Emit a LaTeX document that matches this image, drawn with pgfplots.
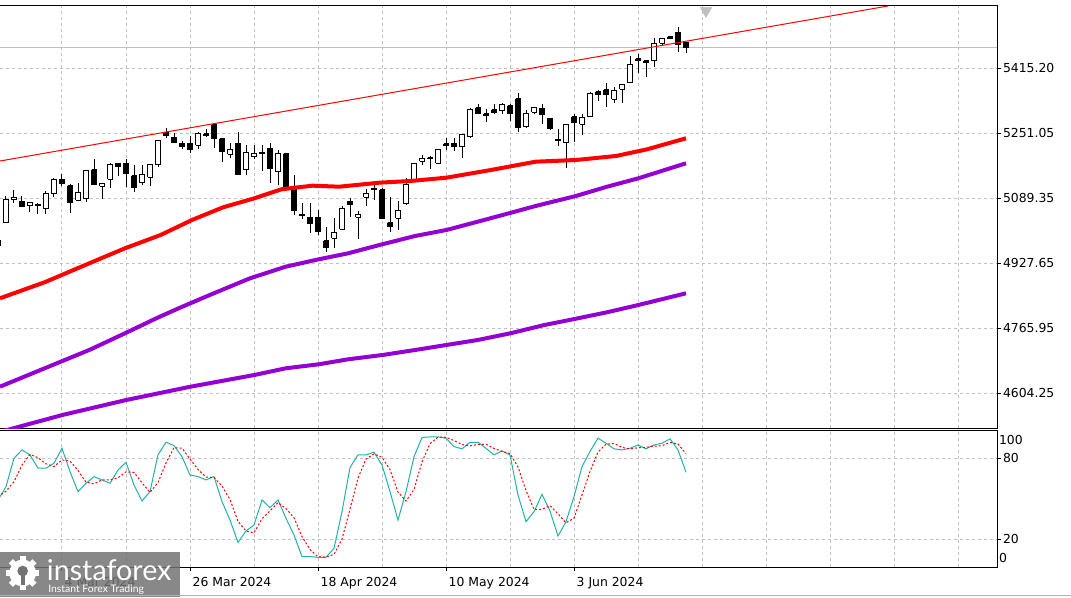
\documentclass[border=0pt]{standalone}
\usepackage{pgfplots}
\pgfplotsset{compat=1.18}
\usepackage{fontspec}
\setmainfont{DejaVu Sans}
\newfontfamily\wmfont{Lato}
\definecolor{maRed}{HTML}{FF0000}
\definecolor{maViolet}{HTML}{9400D3}
\definecolor{stochK}{HTML}{20B2AA}
\definecolor{gridc}{HTML}{C0C0C0}

% candle: index, open, high, low, close, body fill
\newcommand{\candle}[6]{%
  \pgfmathsetmacro\xl{#1-0.3125}\pgfmathsetmacro\xr{#1+0.3125}%
  \addplot[black, line width=0.75pt] coordinates {(#1,#4) (#1,#3)};
  \addplot[draw=black, fill=#6, line width=0.75pt] coordinates {(\xl,#2) (\xr,#2) (\xr,#5) (\xl,#5) (\xl,#2)};
}
\newcommand{\bull}[5]{\candle{#1}{#2}{#3}{#4}{#5}{white}}
\newcommand{\bear}[5]{\candle{#1}{#2}{#3}{#4}{#5}{black}}

\pgfplotstableread{
i K D
-24 49.0 51.5
-23 58.9 55.5
-22 80.0 62.6
-21 86.2 75.0
-20 82.5 82.9
-19 72.6 80.4
-18 72.6 75.9
-17 76.3 73.8
-16 87.4 78.8
-15 70.1 77.9
-14 55.2 70.9
-13 61.4 62.2
-12 66.4 61.0
-11 63.9 63.9
-10 61.4 63.9
-9 71.3 65.5
-8 77.0 69.9
-7 60.2 69.5
-6 48.3 61.8
-5 55.2 54.6
-4 82.5 62.0
-3 91.9 76.5
-2 89.4 87.9
-1 81.2 87.5
0 67.6 79.4
1 66.4 71.7
2 63.9 66.0
3 66.4 65.6
4 47.8 59.4
5 34.1 49.4
6 17.5 33.1
7 26.0 25.9
8 30.4 24.6
9 49.0 35.1
10 43.3 40.9
11 49.0 47.1
12 35.4 42.6
13 23.0 35.8
14 6.9 21.8
15 6.9 12.3
16 6.4 6.7
17 6.4 6.6
18 13.1 8.6
19 40.3 19.9
20 73.1 42.2
21 82.5 65.3
22 82.5 79.4
23 84.5 83.2
24 75.0 80.7
25 55.2 71.6
26 34.1 54.8
27 55.2 48.2
28 81.2 56.8
29 95.4 77.3
30 95.9 90.8
31 95.9 95.7
32 94.9 95.6
33 88.7 93.2
34 87.0 90.2
35 91.9 89.2
36 91.9 90.3
37 87.4 90.4
38 82.5 87.3
39 85.5 85.1
40 82.5 83.5
41 52.7 73.6
42 32.9 56.0
43 40.3 42.0
44 53.2 42.1
45 40.8 44.8
46 22.2 38.7
47 32.9 32.0
48 51.5 35.5
49 73.8 52.7
50 85.0 70.1
51 94.9 84.6
52 91.2 90.4
53 87.0 91.0
54 86.2 88.1
55 87.4 86.9
56 89.9 87.8
57 87.0 88.1
58 89.9 88.9
59 91.2 89.4
60 94.4 91.8
61 86.2 90.6
62 69.6 83.4
}\stochdata

\pgfplotstableread{
i v
-23.75 4840.6
-18.175 4880.4
-12.59 4927.6
-8.125 4965.0
-3.66 4998.1
0.25 5035.4
4.15 5067.0
8.06 5089.4
11.41 5111.7
15.31 5120.7
18.66 5118.2
23.69 5128.2
27.59 5132.4
32.05 5140.6
37.64 5159.8
43.21 5180.4
48.24 5184.6
53.26 5194.6
57.16 5211.3
62 5238.6
}\maA

\pgfplotstableread{
i v
-23.75 4620.7
-18.175 4666.4
-12.59 4712.0
-8.125 4753.5
-4.21 4790.8
-1.425 4815.7
2.475 4848.8
7.5 4890.3
11.96 4919.2
16.1 4937.6
19.775 4952.5
23.69 4973.2
28.15 4995.6
32.05 5010.5
35.96 5031.1
39.86 5052.0
43.21 5070.2
48.24 5095.1
52.14 5118.2
56.05 5139.1
62 5176.4
}\maB

\pgfplotstableread{
i v
-23.75 4508.2
-22.075 4517.2
-15.94 4550.3
-7.96 4587.6
0.075 4620.7
8.06 4649.8
11.96 4666.4
16.1 4676.4
19.775 4688.8
24.075 4699.5
28.15 4712.0
32.05 4724.4
35.96 4736.8
40.04 4753.5
44.325 4774.2
48.075 4789.1
52.14 4805.8
56.05 4823.9
62 4853.0
}\maC

\begin{document}
\begin{tikzpicture}
\useasboundingbox (0,0) rectangle (803.25pt,447.75pt);
\begin{axis}[
  at={(0pt,126.75pt)}, anchor=south west, scale only axis,
  width=747.75pt, height=316.5pt,
  xmin=-23.75, xmax=100.875, ymin=4517.9, ymax=5567.7,
  axis line style={black, line width=0.75pt},
  xtick={-16,-8,...,96}, xticklabels=\empty, xmajorgrids,
  x tick style={draw=none},
  ytick={4604.25,4765.95,4927.65,5089.35,5251.05,5412.75},
  yticklabels={4604.25,4765.95,4927.65,5089.35,5251.05,5415.20},
  scaled y ticks=false,
  ymajorgrids,
  grid style={gridc, dash pattern=on 2.25pt off 2.25pt, line width=0.75pt},
  ytick pos=right, yticklabel pos=right, tick align=outside,
  major tick length=3pt,
  y tick style={black, line width=0.75pt},
  yticklabel style={font=\fontsize{9.3}{10}\selectfont, anchor=west, xshift=-2pt},
  clip=true,
]
\addplot[gridc, line width=0.75pt] coordinates {(-23.75,5464.41) (100.875,5464.41)};
\bear{-24}{4983.1}{4990.6}{4965.7}{4970.7}
\bull{-23}{5029.6}{5095.1}{5029.6}{5085.1}
\bull{-22}{5086.9}{5110.0}{5078.4}{5091.8}
\bear{-21}{5080.9}{5095.1}{5066.5}{5068.5}
\bull{-20}{5070.9}{5079.4}{5056.0}{5079.4}
\bear{-19}{5073.4}{5078.4}{5050.3}{5070.2}
\bull{-18}{5064.5}{5107.5}{5049.5}{5101.8}
\bull{-17}{5101.8}{5139.1}{5091.8}{5136.6}
\bear{-16}{5134.9}{5149.8}{5120.7}{5126.7}
\bear{-15}{5120.7}{5124.9}{5053.5}{5078.4}
\bull{-14}{5084.4}{5126.7}{5084.4}{5104.3}
\bull{-13}{5088.4}{5157.3}{5080.9}{5157.3}
\bear{-12}{5159.8}{5186.4}{5123.2}{5123.2}
\bull{-11}{5119.2}{5124.9}{5088.4}{5124.9}
\bull{-10}{5136.6}{5177.9}{5115.7}{5173.9}
\bear{-9}{5176.4}{5176.4}{5144.8}{5168.0}
\bear{-8}{5176.4}{5187.1}{5118.2}{5151.5}
\bear{-7}{5144.8}{5172.2}{5104.3}{5115.7}
\bull{-6}{5128.2}{5172.2}{5122.4}{5149.1}
\bull{-5}{5141.6}{5173.9}{5120.7}{5173.9}
\bull{-4}{5172.2}{5231.9}{5168.0}{5231.9}
\bear{-3}{5253.5}{5263.5}{5240.1}{5245.1}
\bear{-2}{5241.1}{5251.05}{5226.2}{5228.7}
\bear{-1}{5226.2}{5231.9}{5211.3}{5217.7}
\bear{0}{5226.2}{5245.1}{5202.8}{5211.3}
\bull{1}{5221.9}{5253.5}{5212.7}{5249.3}
\bear{2}{5249.3}{5261.8}{5242.6}{5245.1}
\bear{3}{5271.7}{5273.4}{5213.7}{5238.6}
\bear{4}{5236.9}{5236.9}{5180.4}{5205.3}
\bull{5}{5198.8}{5226.2}{5190.3}{5211.3}
\bear{6}{5226.2}{5255.0}{5147.3}{5147.3}
\bull{7}{5159.8}{5221.9}{5147.3}{5202.8}
\bull{8}{5192.8}{5221.9}{5186.4}{5201.3}
\bear{9}{5203.8}{5221.9}{5158.0}{5201.3}
\bear{10}{5213.7}{5226.2}{5126.7}{5164.0}
\bull{11}{5155.5}{5209.5}{5122.4}{5201.3}
\bear{12}{5199.6}{5202.8}{5118.2}{5118.2}
\bear{13}{5118.2}{5147.3}{5047.8}{5060.2}
\bear{14}{5049.5}{5078.4}{5037.1}{5046.1}
\bear{15}{5042.1}{5078.4}{5003.8}{5027.2}
\bear{16}{5042.1}{5060.2}{4998.1}{5006.3}
\bear{17}{4983.1}{5017.2}{4955.0}{4966.5}
\bull{18}{4989.8}{5039.6}{4966.5}{5004.8}
\bull{19}{5012.2}{5070.2}{5010.5}{5064.5}
\bear{20}{5082.6}{5089.4}{5043.6}{5072.7}
\bull{21}{5042.1}{5057.8}{4987.4}{5049.5}
\bull{22}{5091.8}{5111.7}{5070.9}{5100.1}
\bull{23}{5110.0}{5122.4}{5085.1}{5114.2}
\bear{24}{5110.0}{5114.2}{5039.6}{5039.6}
\bear{25}{5028.6}{5093.3}{5006.3}{5018.7}
\bull{26}{5039.6}{5082.6}{5010.5}{5057.8}
\bull{27}{5075.2}{5139.1}{5072.7}{5124.2}
\bull{28}{5134.9}{5176.4}{5132.4}{5176.4}
\bull{29}{5182.1}{5197.1}{5172.2}{5188.9}
\bear{30}{5190.3}{5194.6}{5162.2}{5187.1}
\bull{31}{5176.4}{5211.3}{5173.9}{5211.3}
\bear{32}{5224.4}{5240.1}{5209.5}{5220.2}
\bear{33}{5226.2}{5240.1}{5207.8}{5217.7}
\bull{34}{5217.7}{5248.6}{5190.3}{5248.6}
\bull{35}{5242.6}{5313.2}{5240.1}{5309.0}
\bear{36}{5314.7}{5323.2}{5298.3}{5300.8}
\bear{37}{5299.1}{5311.5}{5279.9}{5294.8}
\bear{38}{5309.0}{5323.2}{5298.3}{5303.3}
\bull{39}{5307.3}{5325.7}{5298.3}{5321.5}
\bear{40}{5319.0}{5323.2}{5281.7}{5300.8}
\bear{41}{5336.4}{5350.6}{5255.0}{5265.0}
\bull{42}{5267.5}{5309.0}{5265.0}{5300.8}
\bull{43}{5303.3}{5314.7}{5298.3}{5314.7}
\bear{44}{5313.2}{5323.2}{5273.4}{5298.3}
\bear{45}{5288.4}{5288.4}{5259.3}{5263.5}
\bear{46}{5236.1}{5261.0}{5220.2}{5233.6}
\bull{47}{5227.7}{5273.4}{5164.0}{5273.4}
\bear{48}{5292.3}{5298.3}{5230.1}{5278.4}
\bull{49}{5273.4}{5298.3}{5246.8}{5290.4}
\bull{50}{5292.3}{5354.5}{5290.9}{5350.6}
\bear{51}{5354.5}{5358.8}{5332.2}{5348.1}
\bear{52}{5358.8}{5375.4}{5317.2}{5346.3}
\bull{53}{5335.6}{5367.0}{5327.2}{5356.3}
\bull{54}{5360.5}{5373.0}{5325.7}{5373.0}
\bull{55}{5376.9}{5443.4}{5376.9}{5422.7}
\bear{56}{5435.9}{5447.6}{5400.3}{5431.7}
\bear{57}{5430.9}{5430.9}{5390.4}{5426.7}
\bull{58}{5431.7}{5487.4}{5415.2}{5473.2}
\bull{59}{5474.9}{5488.9}{5469.0}{5487.4}
\bear{60}{5491.4}{5493.1}{5487.4}{5487.4}
\bear{61}{5502.3}{5516.2}{5454.1}{5472.5}
\bear{62}{5477.4}{5477.4}{5450.1}{5464.41}
\addplot[maViolet, line width=3pt] table[x=i, y=v] {\maC};
\addplot[maViolet, line width=3pt] table[x=i, y=v] {\maB};
\addplot[maRed, line width=3pt] table[x=i, y=v] {\maA};
\addplot[maRed, line width=0.75pt] coordinates {(-23.75,5182.1) (87.25,5567.7)};
\addplot[only marks, mark=triangle*, mark size=5pt, mark options={rotate=180, fill=gray!50, draw=gray!50}] coordinates {(64.5,5556)};
\node[fill=black, text=white, anchor=west, inner sep=1pt, font=\fontsize{9.3}{10}\selectfont] at (axis cs:100.875,5464.41) {\hspace{1pt}5464.41};
\end{axis}
\begin{axis}[
  at={(0pt,22.5pt)}, anchor=south west, scale only axis,
  width=747.75pt, height=102.75pt,
  xmin=-23.75, xmax=100.875, ymin=-0.8, ymax=101,
  axis line style={black, line width=0.75pt},
  xtick={-16,0,16,32,48},
  xticklabels={4 Mar 2024,26 Mar 2024,18 Apr 2024,10 May 2024,3 Jun 2024},
  minor xtick={-16,-8,...,96}, xminorgrids, xmajorgrids=false,
  minor tick length=0pt,
  xtick pos=left, ytick pos=right, yticklabel pos=right,
  tick align=outside, major tick length=3pt,
  tick style={black, line width=0.75pt},
  xticklabel style={font=\fontsize{9.3}{10}\selectfont, anchor=north west, xshift=-1.5pt, yshift=-1pt},
  ytick={20,80}, yticklabels={20,80}, ymajorgrids,
  extra y ticks={5.9,93.6}, extra y tick labels={0,100},
  extra y tick style={grid=none, major tick length=0pt},
  yticklabel style={font=\fontsize{9.3}{10}\selectfont, anchor=west, xshift=-2pt},
  grid style={gridc, dash pattern=on 2.25pt off 2.25pt, line width=0.75pt},
  minor grid style={gridc, dash pattern=on 2.25pt off 2.25pt, line width=0.75pt},
]
\addplot[stochK, line width=0.75pt] table[x=i, y=K] {\stochdata};
\addplot[red, line width=0.75pt, dash pattern=on 1.5pt off 1.5pt] table[x=i, y=D] {\stochdata};
\end{axis}
% watermark
\fill[black!55, opacity=0.85] (0,0) rectangle (135pt,33.75pt);
\begin{scope}[shift={(17pt,18pt)}]
  \foreach \a in {0,45,...,315} {\fill[white, rotate=\a] (-2.2pt,8pt) rectangle (2.2pt,12.5pt);}
  \fill[white] (0,0) circle (10pt);
  \fill[black!55] (0,1.5pt) circle (4pt);
  \fill[black!55] (-1.5pt,-9pt) rectangle (1.5pt,1pt);
\end{scope}
\node[anchor=base west, text=white, inner sep=0pt, font=\wmfont\fontsize{21.5}{22}\selectfont] at (35pt,12.5pt) {instaforex};
\node[anchor=base west, text=white, inner sep=0pt, font=\wmfont\fontsize{7.8}{8}\selectfont] at (36pt,3.5pt) {Instant Forex Trading};
\draw[gray!60, line width=0.75pt] (0,1.5pt) -- (803.25pt,1.5pt);
\end{tikzpicture}
\end{document}
